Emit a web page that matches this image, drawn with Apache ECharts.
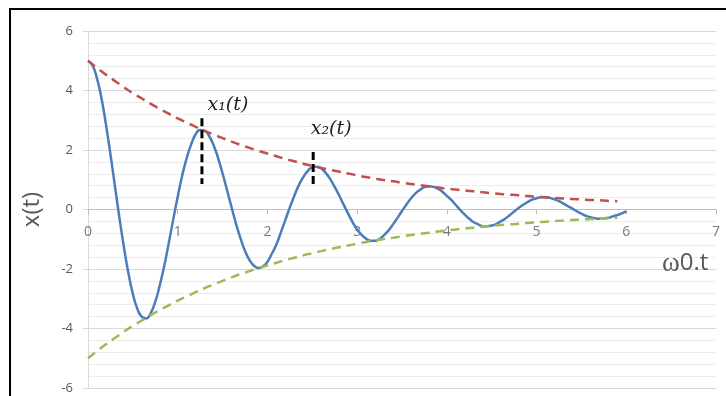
<!DOCTYPE html>
<html><head><meta charset="utf-8">
<script src="https://cdn.jsdelivr.net/npm/echarts@6/dist/echarts.min.js"></script>
<style>html,body{margin:0;padding:0;background:#fff;overflow:hidden}#c{width:726px;height:396px}</style>
</head><body><div id="c"></div>
<script>
// time samples (ω0·t) for x(t)
const tValues = [0,0.05,0.1,0.15,0.2,0.25,0.3,0.35,0.4,0.45,0.5,0.55,0.6,0.65,0.7,0.75,0.8,0.85,0.9,0.95,
  1.0,1.05,1.1,1.15,1.2,1.25,1.3,1.35,1.4,1.45,1.5,1.55,1.6,1.65,1.7,1.75,1.8,1.85,1.9,1.95,
  2.0,2.05,2.1,2.15,2.2,2.25,2.3,2.35,2.4,2.45,2.5,2.55,2.6,2.65,2.7,2.75,2.8,2.85,2.9,2.95,
  3.0,3.05,3.1,3.15,3.2,3.25,3.3,3.35,3.4,3.45,3.5,3.55,3.6,3.65,3.7,3.75,3.8,3.85,3.9,3.95,
  4.0,4.05,4.1,4.15,4.2,4.25,4.3,4.35,4.4,4.45,4.5,4.55,4.6,4.65,4.7,4.75,4.8,4.85,4.9,4.95,
  5.0,5.05,5.1,5.15,5.2,5.25,5.3,5.35,5.4,5.45,5.5,5.55,5.6,5.65,5.7,5.75,5.8,5.85,5.9,5.95,6.0];
// damped oscillation x(t)
const xValues = [5.00,4.85,4.41,3.74,2.86,1.86,0.79,-0.27,-1.26,-2.13,-2.84,-3.34,-3.61,-3.66,-3.48,-3.10,-2.55,-1.90,-1.13,-0.34,
  0.43,1.14,1.73,2.19,2.53,2.67,2.65,2.47,2.16,1.73,1.21,0.65,0.08,-0.48,-0.97,-1.39,-1.70,-1.89,-1.97,-1.91,
  -1.76,-1.48,-1.18,-0.77,-0.35,0.07,0.46,0.82,1.09,1.30,1.42,1.44,1.38,1.23,1.02,0.76,0.47,0.16,-0.14,-0.43,
  -0.67,-0.85,-0.98,-1.05,-1.05,-0.99,-0.86,-0.70,-0.50,-0.28,-0.05,0.17,0.37,0.54,0.66,0.75,0.78,0.76,0.70,0.60,
  0.46,0.32,0.15,-0.02,-0.17,-0.31,-0.43,-0.50,-0.56,-0.56,-0.54,-0.49,-0.40,-0.31,-0.19,-0.07,0.05,0.16,0.25,0.33,
  0.38,0.41,0.41,0.39,0.34,0.28,0.20,0.11,0.03,-0.06,-0.14,-0.21,-0.26,-0.29,-0.31,-0.30,-0.28,-0.23,-0.19,-0.13,-0.06];
// envelope samples
const envT = [0,0.1,0.2,0.3,0.4,0.5,0.6,0.7,0.8,0.9,1.0,1.1,1.2,1.3,1.4,1.5,1.6,1.7,1.8,1.9,2.0,2.1,2.2,2.3,2.4,2.5,2.6,2.7,2.8,2.9,3.0,3.1,3.2,3.3,3.4,3.5,3.6,3.7,3.8,3.9,4.0,4.1,4.2,4.3,4.4,4.5,4.6,4.7,4.8,4.9,5.0,5.1,5.2,5.3,5.4,5.5,5.6,5.7,5.8,5.9];
// upper envelope (red dashed)
const upperEnv = [5.00,4.76,4.53,4.32,4.11,3.91,3.73,3.55,3.38,3.22,3.06,2.92,2.78,2.64,2.52,2.40,2.28,2.17,2.07,1.97,1.88,1.79,1.70,1.62,1.54,1.47,1.40,1.33,1.27,1.21,1.15,1.09,1.04,0.99,0.95,0.90,0.86,0.82,0.78,0.74,0.70,0.67,0.64,0.61,0.58,0.55,0.52,0.50,0.48,0.45,0.43,0.41,0.39,0.37,0.35,0.34,0.32,0.31,0.29,0.28];
// lower envelope (green dashed)
const lowerEnv = [-5.00,-4.76,-4.53,-4.32,-4.11,-3.91,-3.73,-3.55,-3.38,-3.22,-3.06,-2.92,-2.78,-2.64,-2.52,-2.40,-2.28,-2.17,-2.07,-1.97,-1.88,-1.79,-1.70,-1.62,-1.54,-1.47,-1.40,-1.33,-1.27,-1.21,-1.15,-1.09,-1.04,-0.99,-0.95,-0.90,-0.86,-0.82,-0.78,-0.74,-0.70,-0.67,-0.64,-0.61,-0.58,-0.55,-0.52,-0.50,-0.48,-0.45,-0.43,-0.41,-0.39,-0.37,-0.35,-0.34,-0.32,-0.31,-0.29,-0.28];
// peak markers
const marker1T = [1.27, 1.27];
const marker1Y = [3.07, 0.86];
const marker2T = [2.51, 2.51];
const marker2Y = [1.93, 0.86];
const markerLabels = ['x\u2081(t)', 'x\u2082(t)'];
// axis ticks
const xTickValues = [0, 1, 2, 3, 4, 5, 6, 7];
const xTickLabels = ['0', '1', '2', '3', '4', '5', '6', '7'];
const xTicks = [0, 7, 1];   // min, max, interval
const yTicks = [-6, 6, 2];
const yAxisName = 'x(t)';
const xAxisNameParts = ['\u03c9', '0.t'];

function pairs(xs, ys){ return ys.map((y,i)=>[xs[i], y]); }

const chart = echarts.init(document.getElementById('c'), null, {renderer:'canvas'});
const axisGray = '#595959';
const markerSeries = (ts, ys, label, dist, off) => ({
  type:'line', data: pairs(ts, ys), symbol:'none', z:5,
  lineStyle:{color:'#000', width:3, type:[8,4]},
  markPoint:{
    symbol:'circle', symbolSize:0, silent:true,
    data:[{coord:[ts[0], ys[0]],
      label:{show:true, formatter: label, position:'top', distance: dist, offset:[off,0],
        fontFamily:'DejaVu Serif', fontStyle:'italic', fontSize:19, color:'#222'}}]
  }
});
chart.setOption({
  animation:false,
  backgroundColor:'#fff',
  grid:{left:88, right:10, top:31, bottom:8, containLabel:false, outerBoundsMode:'none'},
  xAxis:{
    type:'value', min:xTicks[0], max:xTicks[1], interval:xTicks[2],
    axisLine:{onZero:true, lineStyle:{color:'#bfbfbf', width:1}},
    axisTick:{show:true, inside:false, length:5, lineStyle:{color:'#bfbfbf'}},
    axisLabel:{show:false},
    splitLine:{show:false}
  },
  yAxis:{
    type:'value', min:yTicks[0], max:yTicks[1], interval:yTicks[2],
    name:yAxisName, nameLocation:'middle', nameGap:44,
    nameTextStyle:{color:axisGray, fontSize:24, fontFamily:'Open Sans'},
    axisLine:{show:true, onZero:false, lineStyle:{color:'#d9d9d9'}},
    axisTick:{show:true, length:5, lineStyle:{color:'#d9d9d9'}},
    axisLabel:{color:axisGray, fontSize:13, fontFamily:'Open Sans', margin:15},
    splitLine:{show:true, lineStyle:{color:'#d9d9d9', width:1}},
    minorTick:{show:false, splitNumber:5},
    minorSplitLine:{show:true, lineStyle:{color:'#ececec', width:1}}
  },
  graphic:[
    {type:'rect', shape:{x:10, y:9, width:760, height:450}, style:{fill:null, stroke:'#000', lineWidth:2}, z:100},
    {type:'text', left:662, top:250, z:100, style:{
      text:'{w|' + xAxisNameParts[0] + '}{r|' + xAxisNameParts[1] + '}',
      rich:{
        w:{fontSize:27, fontFamily:'Liberation Serif', fill:axisGray, color:axisGray},
        r:{fontSize:24, fontFamily:'Open Sans', fill:axisGray, color:axisGray}
      }}}
  ],
  series:[
    {type:'line', data: pairs(tValues, xValues), smooth:true, symbol:'none', z:2,
      lineStyle:{color:'#4A7EBB', width:2.5}},
    {type:'line', data: pairs(envT, upperEnv), smooth:true, symbol:'none', z:3,
      lineStyle:{color:'#C0504D', width:2.5, type:[9,6]}},
    {type:'line', data: pairs(envT, lowerEnv), smooth:true, symbol:'none', z:3,
      lineStyle:{color:'#9BBB59', width:2.5, type:[9,6]}},
    markerSeries(marker1T, marker1Y, markerLabels[0], 4, 26),
    markerSeries(marker2T, marker2Y, markerLabels[1], 14, 18),
    // x tick labels, anchored on the x axis (which sits at y = 0)
    {type:'scatter', data: xTickValues.map(v => [v, 0]), symbolSize:0, silent:true, z:1,
      label:{show:true, position:'bottom', distance:16, color:axisGray, fontSize:14, fontFamily:'Open Sans',
        formatter: p => xTickLabels[p.dataIndex]}}
  ]
});
</script>
</body></html>
